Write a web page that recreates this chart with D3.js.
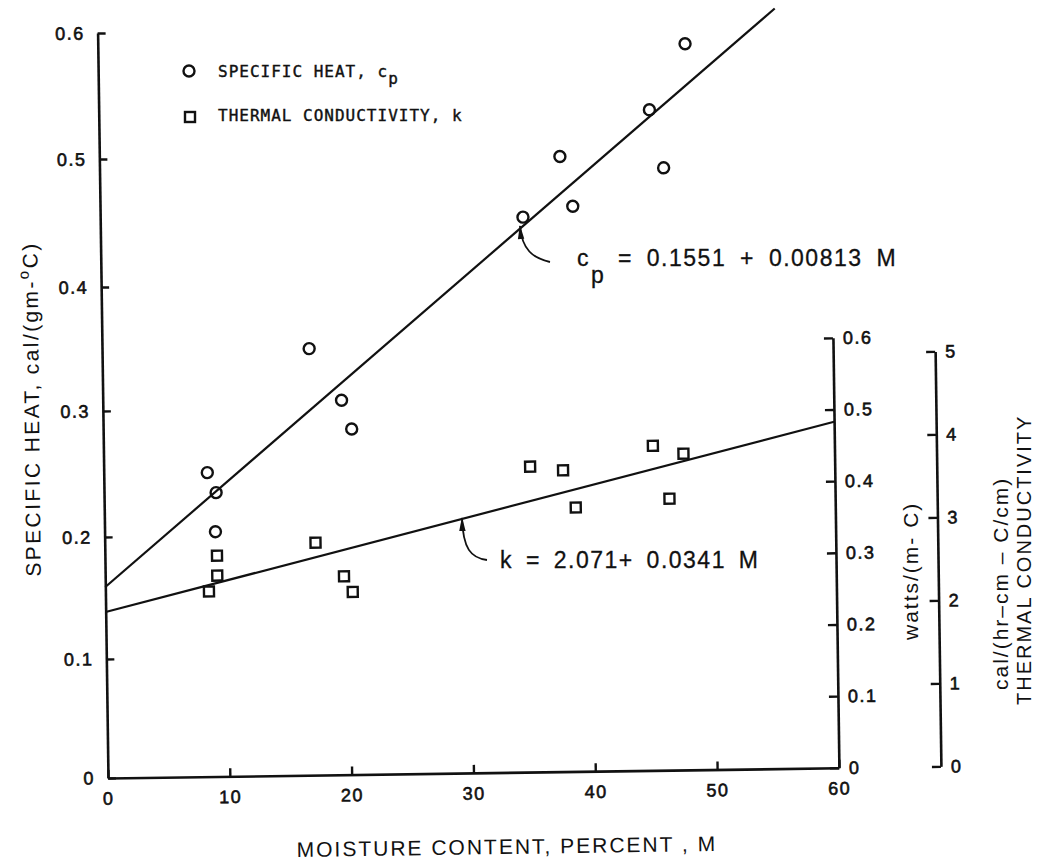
<!DOCTYPE html>
<html><head><meta charset="utf-8">
<script src="https://cdn.jsdelivr.net/npm/d3@7"></script>
<style>body{margin:0;background:#fff}svg{display:block}</style>
</head><body>
<svg id="chart" width="1038" height="863"></svg>
<script>
// ---- data ----
const moistureCp = [8.5, 9.2, 9.1, 17.0, 19.6, 20.4, 34.7, 38.8, 37.8, 45.2, 46.3, 48.2];
const specificHeat = [0.250, 0.234, 0.203, 0.348, 0.306, 0.283, 0.450, 0.458, 0.497, 0.533, 0.487, 0.585];
const moistureK = [8.5, 9.2, 9.2, 17.3, 19.6, 20.3, 35.0, 37.7, 38.7, 45.1, 47.6, 46.4];
const conductivityCal = [2.23, 2.42, 2.66, 2.80, 2.39, 2.20, 3.68, 3.63, 3.18, 3.91, 3.81, 3.27];
const cpFitM = [0, 55.6];
const cpFitValue = [0.159, 0.612];
const kFitM = [0, 60];
const kFitValue = [2.0, 4.17];

const mTicks = [0, 10, 20, 30, 40, 50, 60];
const mTickLabels = ["0", "10", "20", "30", "40", "50", "60"];
const cpTicks = [0, 0.1, 0.2, 0.3, 0.4, 0.5, 0.6];
const cpTickLabels = ["0", "0.1", "0.2", "0.3", "0.4", "0.5", "0.6"];
const wattTicks = [0, 0.1, 0.2, 0.3, 0.4, 0.5, 0.6];
const wattTickLabels = ["0", "0.1", "0.2", "0.3", "0.4", "0.5", "0.6"];
const calTicks = [0, 1, 2, 3, 4, 5];
const calTickLabels = ["0", "1", "2", "3", "4", "5"];

const legendLabels = ["SPECIFIC HEAT, c", "THERMAL CONDUCTIVITY, k"];
const xTitle = "MOISTURE CONTENT, PERCENT , M";
const cpEquation = "= 0.1551 + 0.00813 M";
const kEquation = "k = 2.071+ 0.0341 M";

// ---- drawing ----
const ink = "#111";
const sans = "'Liberation Sans', Arial, Helvetica, sans-serif";
const mono = "'DejaVu Sans Mono', 'Liberation Mono', monospace";
const svg = d3.select("#chart");

const x = d3.scaleLinear().domain([0, 60]).range([0, 731]);
// the scanned left axis has slightly uneven tick spacing
const yCp = d3.scaleLinear().domain(cpTicks).range([0, -119, -241, -367, -491, -619, -745]);
const yW = d3.scaleLinear().domain([0, 0.6]).range([0, -430]);
const yCal = d3.scaleLinear().domain([0, 5]).range([0, -415]);

const g = svg.append("g").attr("transform", "translate(108,778) rotate(-0.8)");

function styleAxis(sel) {
  sel.attr("font-family", null).attr("font-size", null);
  sel.select(".domain").attr("stroke", ink).attr("stroke-width", 2.6);
  sel.selectAll(".tick line").attr("stroke", ink).attr("stroke-width", 2.4);
  sel.selectAll(".tick text").attr("fill", ink)
    .attr("stroke", ink).attr("stroke-width", 0.6)
    .style("font-family", sans).style("font-size", "18px").style("letter-spacing", "1.5px");
}

g.append("g")
  .call(d3.axisLeft(yCp).tickValues(cpTicks).tickFormat((d, i) => cpTickLabels[i])
    .tickSizeInner(-8).tickSizeOuter(0).tickPadding(13))
  .call(styleAxis);

g.append("g")
  .call(d3.axisBottom(x).tickValues(mTicks).tickFormat((d, i) => mTickLabels[i])
    .tickSizeInner(-8).tickSizeOuter(0).tickPadding(14))
  .call(styleAxis);

g.append("g").attr("transform", `translate(${x(60)},0)`)
  .call(d3.axisRight(yW).tickValues(wattTicks).tickFormat((d, i) => wattTickLabels[i])
    .tickSizeInner(-9).tickSizeOuter(0).tickPadding(10))
  .call(styleAxis);

g.append("g").attr("transform", "translate(833,0)")
  .call(d3.axisRight(yCal).tickValues(calTicks).tickFormat((d, i) => calTickLabels[i])
    .tickSizeInner(-9).tickSizeOuter(0).tickPadding(10))
  .call(styleAxis);

// fit lines
const cpLine = d3.line().x(d => x(d[0])).y(d => yCp(d[1]));
const kLine = d3.line().x(d => x(d[0])).y(d => yCal(d[1]));
g.append("path").attr("d", cpLine(d3.zip(cpFitM, cpFitValue)))
  .attr("fill", "none").attr("stroke", ink).attr("stroke-width", 2.2);
g.append("path").attr("d", kLine(d3.zip(kFitM, kFitValue)))
  .attr("fill", "none").attr("stroke", ink).attr("stroke-width", 2.2);

// points
g.selectAll("circle.cp").data(d3.zip(moistureCp, specificHeat)).join("circle")
  .attr("class", "cp")
  .attr("cx", d => x(d[0])).attr("cy", d => yCp(d[1])).attr("r", 5.5)
  .attr("fill", "none").attr("stroke", ink).attr("stroke-width", 2.4);
g.selectAll("rect.k").data(d3.zip(moistureK, conductivityCal)).join("rect")
  .attr("class", "k")
  .attr("x", d => x(d[0]) - 5).attr("y", d => yCal(d[1]) - 5)
  .attr("width", 10).attr("height", 10)
  .attr("fill", "none").attr("stroke", ink).attr("stroke-width", 2.4);

// legend
svg.append("circle").attr("cx", 189).attr("cy", 71).attr("r", 5.5)
  .attr("fill", "none").attr("stroke", ink).attr("stroke-width", 2.4);
svg.append("rect").attr("x", 185).attr("y", 112).attr("width", 10).attr("height", 10)
  .attr("fill", "none").attr("stroke", ink).attr("stroke-width", 2.4);
const legendStyle = s => s.style("font-family", mono).style("font-size", "16px")
  .style("letter-spacing", "1px").attr("fill", ink).attr("stroke", ink).attr("stroke-width", 0.4);
const lg1 = svg.append("text").attr("x", 218).attr("y", 77).call(legendStyle);
lg1.append("tspan").text(legendLabels[0]);
lg1.append("tspan").attr("dy", 7).text("p");
svg.append("text").attr("x", 218).attr("y", 121).call(legendStyle).text(legendLabels[1]);

// equations
const eqStyle = s => s.style("font-family", sans).style("font-size", "23px")
  .style("letter-spacing", "1.5px").style("word-spacing", "6px").attr("fill", ink)
  .attr("stroke", ink).attr("stroke-width", 0.3);
svg.append("text").attr("x", 577).attr("y", 266).text("c").call(eqStyle);
svg.append("text").attr("x", 591).attr("y", 283).text("p").call(eqStyle);
svg.append("text").attr("x", 618).attr("y", 266).text(cpEquation).call(eqStyle);
svg.append("text").attr("x", 500).attr("y", 568).text(kEquation).call(eqStyle).style("word-spacing", "5px");

// arrows
svg.append("defs").append("marker").attr("id", "ah")
  .attr("viewBox", "0 0 14 8").attr("refX", 13).attr("refY", 4)
  .attr("markerWidth", 15).attr("markerHeight", 8).attr("markerUnits", "userSpaceOnUse")
  .attr("orient", "auto")
  .append("path").attr("d", "M0,0.8 L14,4 L0,7.2 Z").attr("fill", ink);
svg.append("path").attr("d", "M550,262 C533,258 522,250 520,226")
  .attr("fill", "none").attr("stroke", ink).attr("stroke-width", 1.8).attr("marker-end", "url(#ah)");
svg.append("path").attr("d", "M487,560 C471,558 463,549 462,518")
  .attr("fill", "none").attr("stroke", ink).attr("stroke-width", 1.8).attr("marker-end", "url(#ah)");

// titles
const titleStyle = s => s.style("font-family", sans).style("font-size", "21px")
  .style("letter-spacing", "2px").attr("fill", ink);
svg.append("text").attr("transform", "translate(507,854) rotate(-0.8)")
  .attr("text-anchor", "middle").text(xTitle).call(titleStyle);

const lt = svg.append("text").attr("transform", "translate(39,409) rotate(-90.6)")
  .attr("text-anchor", "middle").call(titleStyle).style("letter-spacing", "2.4px");
lt.append("tspan").text("SPECIFIC HEAT, cal/(gm-");
lt.append("tspan").attr("dy", -9).style("font-size", "15px").text("o");
lt.append("tspan").attr("dy", 9).text("C)");

svg.append("text").attr("transform", "translate(918,640) rotate(-90)")
  .text("watts/(m- C)").call(titleStyle);
svg.append("text").attr("transform", "translate(1008,690) rotate(-90)")
  .text("cal/(hr\u2013cm \u2013 C/cm)").call(titleStyle);
svg.append("text").attr("transform", "translate(1031,705) rotate(-90)")
  .text("THERMAL CONDUCTIVITY").call(titleStyle).style("font-size", "20px");
</script>
</body></html>
